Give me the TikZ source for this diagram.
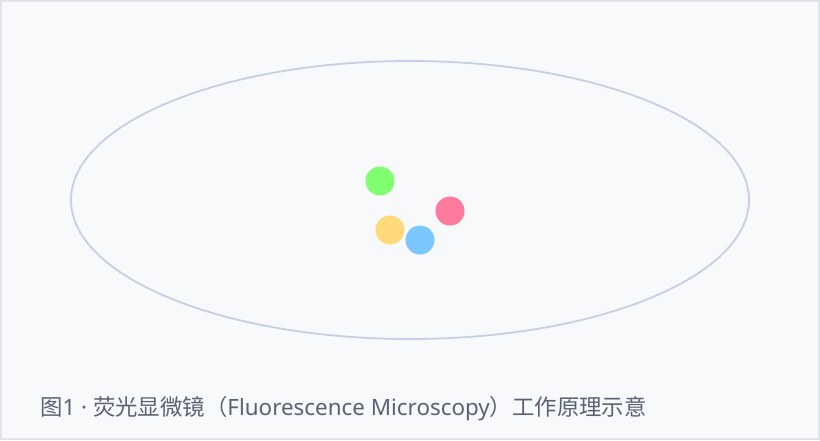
\documentclass[tikz,border=0pt]{standalone}
\usepackage{fontspec}
\setmainfont{Noto Sans CJK SC}
\newfontfamily\latinfont{Noto Sans}
\usepackage{xcolor}
\usetikzlibrary{shapes.geometric}
\definecolor{framegray}{RGB}{224,227,234}
\definecolor{panelbg}{RGB}{248,249,251}
\definecolor{ringblue}{RGB}{197,208,230}
\definecolor{gfpgreen}{RGB}{128,255,112}
\definecolor{rfppink}{RGB}{255,122,156}
\definecolor{yfpyellow}{RGB}{255,217,122}
\definecolor{cfpblue}{RGB}{122,200,255}
\definecolor{captiongray}{RGB}{90,98,117}

\begin{document}
\begin{tikzpicture}[x=1pt, y=-1pt, every node/.style={font=\small},
  dot/.style={circle, inner sep=0pt, minimum size=29pt}]

\useasboundingbox (0,0) rectangle (820,440);

% Panel
\draw[framegray, line width=2pt, fill=panelbg] (1,1) rectangle (819,439);

% Cell outline
\node[ellipse, draw=ringblue, line width=1.8pt, minimum width=678pt, minimum height=278pt, inner sep=0pt] at (410,200) (cell) {};

% Fluorophores
\node[dot, fill=gfpgreen] at (380,181) (gfp) {};
\node[dot, fill=rfppink] at (450,211) (rfp) {};
\node[dot, fill=yfpyellow] at (390,230) (yfp) {};
\node[dot, fill=cfpblue] at (420,240) (cfp) {};

% Caption
\node[anchor=base west, inner sep=0pt, text=captiongray, font=\fontsize{22.4}{27}\selectfont] at (40,415) (caption) {图{\latinfont 1 · }荧光显微镜（{\latinfont Fluorescence Microscopy}）工作原理示意};

\end{tikzpicture}
\end{document}
